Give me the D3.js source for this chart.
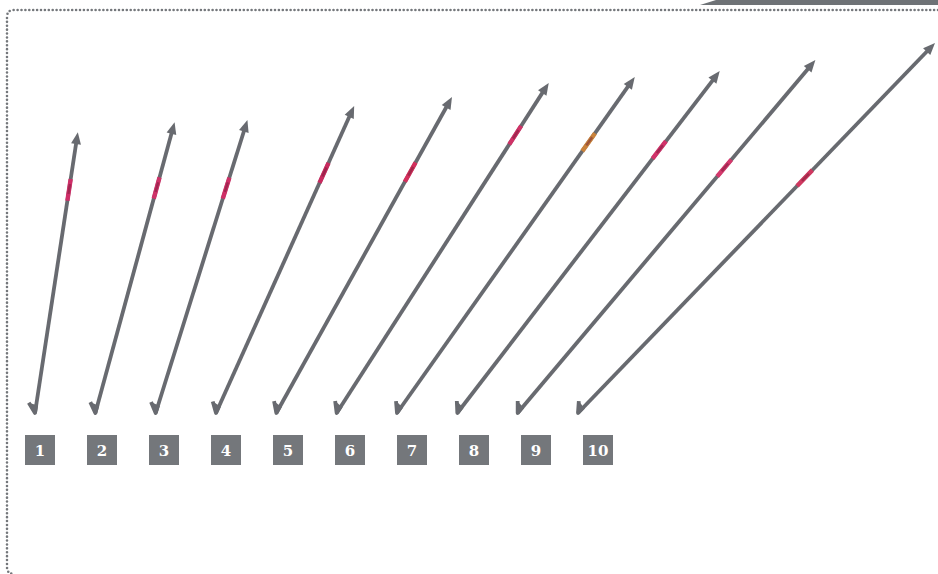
<!DOCTYPE html>
<html>
<head>
<meta charset="utf-8">
<script src="https://cdn.jsdelivr.net/npm/d3@7"></script>
<style>
  html, body { margin: 0; padding: 0; background: #fff; }
  svg { display: block; }
</style>
</head>
<body>
<script>
// ---- data ----
const categories = ["1", "2", "3", "4", "5", "6", "7", "8", "9", "10"];
// horizontal reach of each arrow (0-100 units)
const reach = [12.0, 22.2, 25.7, 38.7, 49.2, 59.4, 66.6, 73.5, 83.4, 100];
// height of each arrow tip (0-100 units)
const heights = [75.9, 78.6, 79.2, 83.0, 85.4, 89.2, 90.8, 92.4, 95.4, 100];
// level of the highlighted band along each arrow (0-100 units)
const highlight = [60.3, 60.8, 60.8, 64.9, 65.1, 75.1, 73.2, 71.1, 66.2, 63.5];
const highlightColors = ["#cf2f68", "#cf3068", "#cf2f66", "#c92a5e", "#d42f5c",
                         "#cf3066", "#c9823a", "#d2336a", "#d4376c", "#d03860"];

const W = 938, H = 574;
const svg = d3.select("body").append("svg").attr("width", W).attr("height", H);

// soft blur to mimic the raster source
const defs = svg.append("defs");
defs.append("filter").attr("id", "soft")
  .append("feGaussianBlur").attr("stdDeviation", 0.6);

// frame
const frameColor = "#74777b";
svg.append("path")
  .attr("d", `M${W},10 H14 Q7,10 7,17 V567 Q7,574 14,574`)
  .attr("fill", "none")
  .attr("stroke", frameColor)
  .attr("stroke-width", 2.6)
  .attr("stroke-linecap", "round")
  .attr("stroke-dasharray", "0 3.9");

// top-right tab
svg.append("path")
  .attr("d", `M700,5 L716,0 L${W},0 L${W},5 Z`)
  .attr("fill", "#6e7276");

// scales
const xBox = d3.scalePoint().domain(categories).range([25, 583]);
const xBase = d3.scalePoint().domain(categories).range([35, 578]);
const xReach = d3.scaleLinear().domain([0, 100]).range([0, 357]);
const y = d3.scaleLinear().domain([0, 100]).range([413, 43]);

const arrowColor = "#686b6f";
const data = categories.map((c, i) => {
  const x0 = xBase(c), y0 = y(0);
  const x1 = x0 + xReach(reach[i]), y1 = y(heights[i]);
  const dx = x1 - x0, dy = y1 - y0, len = Math.hypot(dx, dy);
  const ux = dx / len, uy = dy / len;
  return { c, i, x0, y0, x1, y1, ux, uy, len };
});

const g = svg.append("g").attr("filter", "url(#soft)");

data.forEach(d => {
  const headLen = 12, headW = 5;
  const bx = d.x1 - d.ux * headLen, by = d.y1 - d.uy * headLen;
  // shaft
  g.append("line")
    .attr("x1", d.x0).attr("y1", d.y0)
    .attr("x2", bx + d.ux * 2).attr("y2", by + d.uy * 2)
    .attr("stroke", arrowColor).attr("stroke-width", 3.8)
    .attr("stroke-linecap", "butt");
  // highlight band
  const t = highlight[d.i] / heights[d.i];
  const cx = d.x0 + t * (d.x1 - d.x0), cy = d.y0 + t * (d.y1 - d.y0);
  const hl = 11;
  g.append("line")
    .attr("x1", cx - d.ux * hl).attr("y1", cy - d.uy * hl)
    .attr("x2", cx + d.ux * hl).attr("y2", cy + d.uy * hl)
    .attr("stroke", highlightColors[d.i]).attr("stroke-width", 4.4);
  g.append("line")
    .attr("x1", cx - d.ux * 4).attr("y1", cy - d.uy * 4)
    .attr("x2", cx + d.ux * 6).attr("y2", cy + d.uy * 6)
    .attr("stroke", "#6a1a35").attr("stroke-opacity", 0.45).attr("stroke-width", 2.4);
  // top arrowhead
  const px = -d.uy, py = d.ux;
  g.append("path")
    .attr("d", `M${d.x1},${d.y1} L${bx + px * headW},${by + py * headW} L${bx - px * headW},${by - py * headW} Z`)
    .attr("fill", arrowColor);
  // bottom harpoon barb
  const ang = Math.atan2(d.uy, d.ux) - 40 * Math.PI / 180;
  const bl = 12;
  g.append("path")
    .attr("d", `M${d.x0 + Math.cos(ang) * bl},${d.y0 + Math.sin(ang) * bl} L${d.x0},${d.y0} L${d.x0 + d.ux * 8},${d.y0 + d.uy * 8}`)
    .attr("fill", arrowColor)
    .attr("stroke", arrowColor).attr("stroke-width", 3.8)
    .attr("stroke-linejoin", "round");
});

// label boxes
const labels = svg.append("g").selectAll("g").data(categories).join("g")
  .attr("transform", c => `translate(${xBox(c)},435)`);
labels.append("rect")
  .attr("width", 30).attr("height", 30)
  .attr("fill", "#74777b");
labels.append("text")
  .attr("x", 15).attr("y", 21)
  .attr("text-anchor", "middle")
  .attr("fill", "#fff")
  .attr("font-family", "'DejaVu Serif', serif")
  .attr("font-weight", "bold")
  .attr("font-size", 15)
  .text(c => c);
</script>
</body>
</html>
